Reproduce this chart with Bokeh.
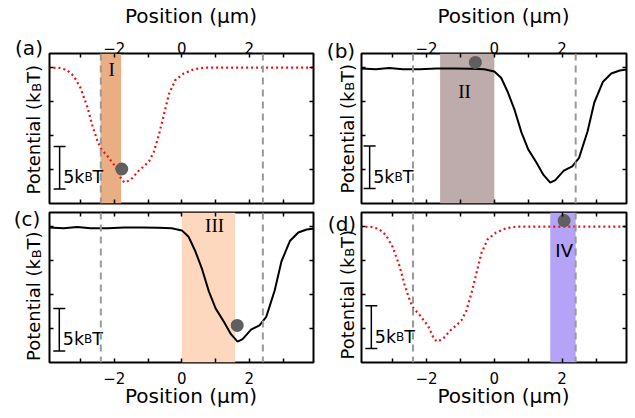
import math
from bokeh.plotting import figure
from bokeh.models import (FixedTicker, LinearAxis, Range1d, ColumnDataSource,
                          Span, BoxAnnotation, Whisker, TeeHead)
from bokeh.layouts import column, row
from bokeh.embed import file_html
from bokeh.resources import INLINE
from bokeh.core.properties import value

# ---------------- data ----------------
x_major_ticks = [-2, 0, 2]
x_minor_ticks = [-3, -1, 1, 3]
y_ticks = [0, -4, -8, -12]
x_limits = [-3.92, 3.9]
y_limits = [-15.95, 1.65]

# red dotted potential (panels a, d)
red_x = [-3.95, -3.6, -3.4, -3.2, -3.0, -2.8, -2.65, -2.5, -2.4, -2.2, -1.95, -1.78, -1.68, -1.5,
         -1.3, -1.1, -0.97, -0.83, -0.68, -0.53, -0.38, -0.2, 0.05, 0.35, 0.7, 1.5, 2.5, 3.95]
red_y = [0.0, -0.05, -0.3, -1.0, -2.4, -4.6, -6.8, -8.6, -9.5, -10.4, -11.7, -13.2, -13.5, -13.1,
         -12.2, -11.5, -11.0, -9.9, -7.9, -5.5, -3.1, -1.5, -0.7, -0.2, 0.0, 0.0, 0.0, 0.0]

# black solid potential (panels b, c)
black_x = [-3.95, -3.5, -3.1, -2.7, -2.2, -1.7, -1.2, -0.7, -0.3, 0.0, 0.2, 0.4, 0.6, 0.8,
           1.0, 1.25, 1.45, 1.65, 1.8, 2.05, 2.3, 2.5, 2.75, 2.95, 3.2, 3.45, 3.7, 3.95]
black_y = [-0.1, -0.2, -0.05, -0.2, -0.2, -0.12, -0.1, -0.15, -0.2, -0.45, -1.2, -2.9, -5.0, -7.6,
           -9.6, -11.2, -12.6, -13.5, -13.2, -12.1, -11.6, -10.6, -7.5, -4.1, -1.7, -0.7, -0.35, -0.2]

barrier_x = [-2.4, 2.4]

panel_letters = ["(a)", "(b)", "(c)", "(d)"]
panel_curves = ["red", "black", "black", "red"]
region_labels = ["I", "II", "III", "IV"]
region_left = [-2.41, -1.6, 0.0, 1.65]
region_right = [-1.8, 0.0, 1.58, 2.4]
region_colors = ["#eaae84", "#beabab", "#fdd8bf", "#b4a3f6"]
region_label_x = [-2.08, -0.88, 0.97, 2.06]
region_label_y = [-0.2, -2.75, 0.1, -2.85]
particle_x = [-1.78, -0.56, 1.64, 2.06]
particle_y = [-11.9, 0.6, -11.6, 0.7]
scalebar_x = [-3.62, -3.68, -3.63, -3.63]
scalebar_bottom = [-14.25, -14.2, -14.6, -14.3]
scalebar_length = 5

x_axis_label = "Position (μm)"
y_label_parts = ["Potential (k", "B", "T)"]
scale_label_parts = ["5k", "B", "T"]

# ---------------- layout / style ----------------
FONT = "DejaVu Sans"
ADV = {'P': .603, 'o': .612, 't': .392, 'e': .615, 'n': .634, 'i': .278, 'a': .613, 'l': .278,
       ' ': .318, '(': .390, ')': .390, 'k': .579, 'B': .686, 'T': .611, '5': .636}


def tw(s, size):
    return sum(ADV.get(c, 0.6) for c in s) * size


PAGE_H = 418
FH = 150
# per panel: main frame width, borders, strip index, label positions in page pixels
spec = [
    dict(fw=264, left=4, right=2, top=52, bottom=4, strip=0, letter=(28.5, 47.5), ylab=(33, 194)),
    dict(fw=265, left=3, right=4, top=52, bottom=4, strip=1, letter=(340.5, 50.5), ylab=(346.5, 193)),
    dict(fw=264, left=4, right=2, top=5, bottom=57, strip=0, letter=(26.5, 218), ylab=(33.3, 360.5)),
    dict(fw=265, left=3, right=4, top=5, bottom=57, strip=1, letter=(341.5, 223), ylab=(346.5, 359)),
]
STRIPS = [dict(x0=0, w=45), dict(x0=315, w=43)]
SUB_SHIFT = [3, 2]
LABEL_PAD = "\u00a0\u00a0\u00a0"   # shifts the centred axis title slightly right, as in the reference


def style_ticks(ax):
    ax.axis_line_color = None
    ax.major_tick_in = 4
    ax.major_tick_out = 0
    ax.minor_tick_in = 4
    ax.minor_tick_out = 0
    ax.major_tick_line_color = "black"
    ax.minor_tick_line_color = "black"
    ax.major_tick_line_width = 1.5
    ax.minor_tick_line_width = 1.5
    ax.major_label_text_font = FONT
    ax.major_label_text_font_size = "15px"
    ax.major_label_text_color = "black"


def make_strip(k):
    sd = STRIPS[k]
    w, x0 = sd["w"], sd["x0"]
    st = figure(frame_width=w, frame_height=PAGE_H, title=None, toolbar_location=None,
                min_border_left=0, min_border_right=0, min_border_top=0, min_border_bottom=0,
                output_backend="svg", x_axis_location=None, y_axis_location=None,
                x_range=Range1d(0, w), y_range=Range1d(0, PAGE_H))
    st.outline_line_color = None
    st.xgrid.grid_line_color = None
    st.ygrid.grid_line_color = None
    st.background_fill_color = "white"
    st.border_fill_color = "white"
    for i, s in enumerate(spec):
        if s["strip"] != k:
            continue
        lx, ly = s["letter"]
        st.text([lx - x0], [PAGE_H - ly], text=[panel_letters[i]], text_font=value(FONT),
                text_font_size="20px", text_color="black",
                text_align="center", text_baseline="middle")
        bx, by = s["ylab"]
        ysize, ysub = 18, 13
        pos = PAGE_H - by
        for part, sz, dx in zip(y_label_parts, [ysize, ysub, ysize], [0, SUB_SHIFT[k], 0]):
            st.text([bx - x0 + dx], [pos], text=[part], angle=math.pi / 2,
                    text_font=value(FONT), text_font_size=f"{sz}px", text_color="black",
                    text_align="left", text_baseline="alphabetic")
            pos += tw(part, sz)
    return st


def make_panel(i):
    s = spec[i]
    top_row = i < 2
    p = figure(frame_width=s["fw"], frame_height=FH,
               x_range=Range1d(*x_limits), y_range=Range1d(*y_limits),
               output_backend="svg", toolbar_location=None, title=None,
               x_axis_location=None, y_axis_location=None,
               min_border_left=s["left"], min_border_right=s["right"],
               min_border_top=s["top"], min_border_bottom=s["bottom"])
    p.xgrid.grid_line_color = None
    p.ygrid.grid_line_color = None
    p.outline_line_color = "black"
    p.outline_line_width = 2
    p.outline_line_alpha = 1
    p.background_fill_color = "white"
    p.border_fill_color = "white"

    xt = FixedTicker(ticks=x_major_ticks, minor_ticks=x_minor_ticks)
    for loc in ["above", "below"]:
        ax = LinearAxis(ticker=xt)
        style_ticks(ax)
        labeled = (loc == "above") == top_row
        if labeled:
            ax.axis_label = LABEL_PAD + x_axis_label
            ax.axis_label_text_font = FONT
            ax.axis_label_text_font_size = "20px"
            ax.axis_label_text_font_style = "normal"
            ax.axis_label_text_color = "black"
            if loc == "above":
                ax.major_label_standoff = 0
                ax.axis_label_standoff = 11
            else:
                ax.major_label_standoff = 9
                ax.axis_label_standoff = -3
        else:
            ax.major_label_overrides = {t: "" for t in x_major_ticks}
            ax.major_label_standoff = 0
        p.add_layout(ax, loc)

    yt = FixedTicker(ticks=y_ticks, minor_ticks=[])
    for loc in ["left", "right"]:
        ax = LinearAxis(ticker=yt)
        style_ticks(ax)
        ax.major_label_overrides = {t: "" for t in y_ticks}
        ax.major_label_standoff = 0
        p.add_layout(ax, loc)

    # shaded region
    p.add_layout(BoxAnnotation(left=region_left[i], right=region_right[i],
                               fill_color=region_colors[i], fill_alpha=1,
                               line_color=None, level="underlay"))
    # barrier lines
    for bx in barrier_x:
        p.add_layout(Span(location=bx, dimension="height", line_color="#999999",
                          line_width=2, line_dash="7 5"))
    # potential curve
    if panel_curves[i] == "red":
        p.line(red_x, red_y, line_color="#ee1111", line_width=2.2, line_dash="2 3")
    else:
        p.line(black_x, black_y, line_color="black", line_width=2)
    # particle
    p.scatter([particle_x[i]], [particle_y[i]], size=13, fill_color="#5f5f5f",
              line_color=None)
    # region label
    if region_labels[i] == "IV":
        rfont, rsize = FONT, "18px"
    else:
        rfont, rsize = "Liberation Serif", "19px"
    p.text([region_label_x[i]], [region_label_y[i]], text=[region_labels[i]],
           text_font=value(rfont), text_font_size=rsize, text_color="black",
           text_align="center", text_baseline="middle")

    # scale bar
    src = ColumnDataSource(dict(base=[scalebar_x[i]], lower=[scalebar_bottom[i]],
                                upper=[scalebar_bottom[i] + scalebar_length]))
    p.add_layout(Whisker(source=src, base="base", lower="lower", upper="upper",
                         dimension="height", line_color="black", line_width=1.5,
                         lower_head=TeeHead(size=12, line_color="black", line_width=1.5),
                         upper_head=TeeHead(size=12, line_color="black", line_width=1.5)))
    big, small = 17.5, 12
    off = 3.5
    for part, sz in zip(scale_label_parts, [big, small, big]):
        p.text([scalebar_x[i]], [scalebar_bottom[i] + 1.4], text=[part],
               text_font=value(FONT), text_font_size=f"{sz}px", text_color="black",
               text_align="left", text_baseline="alphabetic", x_offset=off)
        off += tw(part, sz)
    return p


strips = [make_strip(k) for k in range(2)]
panels = [make_panel(i) for i in range(4)]
layout = row(strips[0], column(panels[0], panels[2]),
             strips[1], column(panels[1], panels[3]))
open("out.html", "w").write(file_html(layout, INLINE, title="potential"))
